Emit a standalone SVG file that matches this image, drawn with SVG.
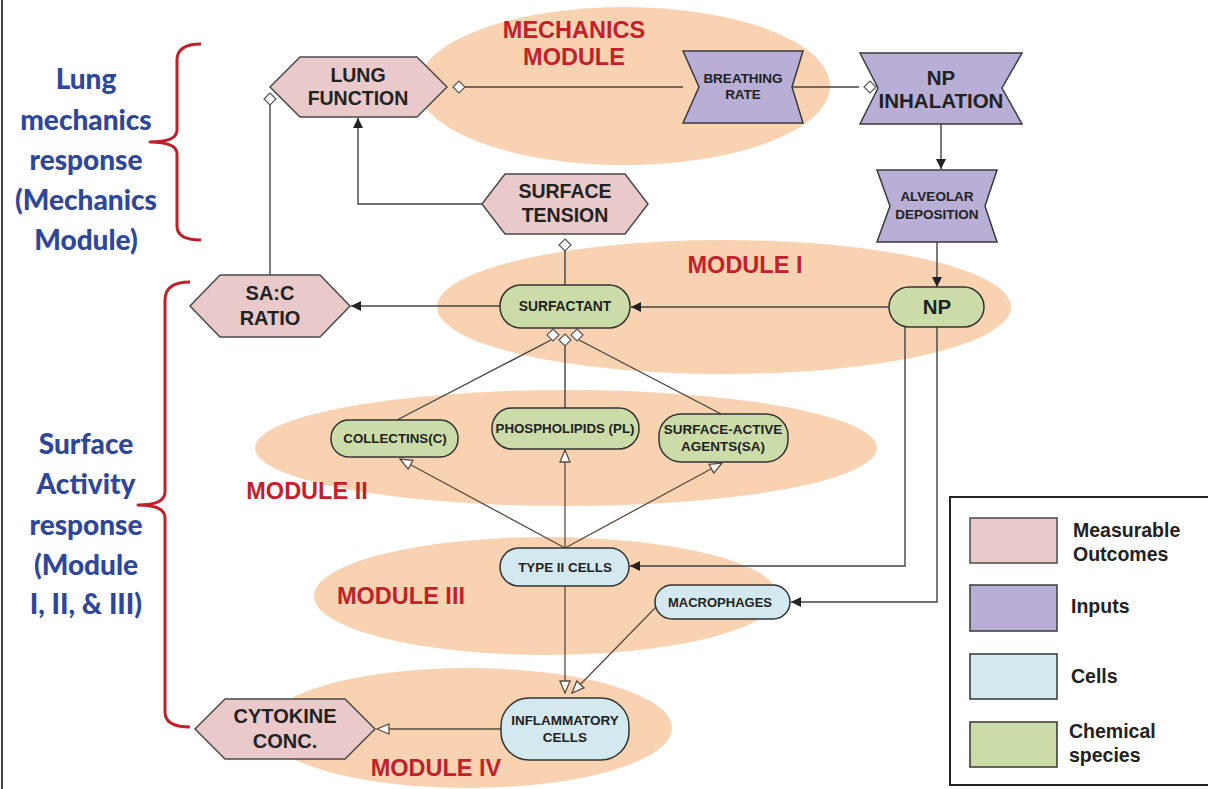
<svg xmlns="http://www.w3.org/2000/svg" width="1208" height="789" viewBox="0 0 1208 789">
<defs>
<style>
.mod{fill:#F9D3B1}
.mlab{font-family:"Liberation Sans",Arial,sans-serif;font-weight:bold;fill:#C2202B;font-size:23.5px;text-anchor:middle}
.side{font-family:Lato,"Open Sans",sans-serif;font-weight:900;fill:#2F479A;font-size:28px;text-anchor:middle}
.pink{fill:#E9C9C9;stroke:#4a4a4a;stroke-width:1.5}
.purp{fill:#B9AED5;stroke:#3a3a3a;stroke-width:1.5}
.blue{fill:#D3E8EF;stroke:#333;stroke-width:1.5}
.green{fill:#CCDCA9;stroke:#333;stroke-width:1.5}
.t{font-family:"Liberation Sans",Arial,sans-serif;font-weight:bold;fill:#222;text-anchor:middle}
.ln{fill:none;stroke:#444;stroke-width:1.4}
.lnb{fill:none;stroke:#5a4a3e;stroke-width:1.3}
.dia{fill:#fff;stroke:#555;stroke-width:1.2}
.brace{fill:none;stroke:#C0202A;stroke-width:3;stroke-linejoin:round}
.leg{font-family:"Liberation Sans",Arial,sans-serif;font-weight:bold;fill:#222;font-size:19.5px}
</style>
<marker id="af" viewBox="0 0 10 10" refX="10" refY="5" markerWidth="10" markerHeight="10" markerUnits="userSpaceOnUse" orient="auto">
<path d="M0,0 L10,5 L0,10 z" fill="#222"/>
</marker>
<marker id="ah" viewBox="0 0 14 12" refX="13" refY="6" markerWidth="14" markerHeight="12" markerUnits="userSpaceOnUse" orient="auto">
<path d="M1,1 L13,6 L1,11 z" fill="#fff" stroke="#5a4a3e" stroke-width="1.3"/>
</marker>
</defs>
<rect width="1208" height="789" fill="#fff"/>
<line x1="2" y1="0" x2="2" y2="789" stroke="#444" stroke-width="2"/>

<g id="modules">
<ellipse class="mod" cx="624" cy="86" rx="206" ry="79"/>
<ellipse class="mod" cx="724" cy="307" rx="287" ry="67"/>
<ellipse class="mod" cx="566" cy="448" rx="311" ry="58"/>
<ellipse class="mod" cx="546" cy="596" rx="232" ry="59"/>
<ellipse class="mod" cx="468" cy="728" rx="204" ry="60"/>
<text class="mlab" x="574" y="38">MECHANICS</text>
<text class="mlab" x="574" y="65">MODULE</text>
<text class="mlab" x="745" y="273">MODULE I</text>
<text class="mlab" x="307" y="499">MODULE II</text>
<text class="mlab" x="401" y="604">MODULE III</text>
<text class="mlab" x="436" y="776">MODULE IV</text>
</g>

<g id="side-labels">
<path class="brace" d="M201,44 Q177,44 177,60 L177,130 Q177,142 150,142 Q177,142 177,154 L177,226 Q177,240 201,240"/>
<text class="side" x="86" y="89">Lung</text>
<text class="side" x="86" y="130">mechanics</text>
<text class="side" x="86" y="170">response</text>
<text class="side" x="86" y="210">(Mechanics</text>
<text class="side" x="86" y="250">Module)</text>
<path class="brace" d="M190,282 Q165,282 165,300 L165,492 Q165,505 138,505 Q165,505 165,518 L165,712 Q165,727 190,727"/>
<text class="side" x="86" y="454">Surface</text>
<text class="side" x="86" y="494">Activity</text>
<text class="side" x="86" y="535">response</text>
<text class="side" x="86" y="575">(Module</text>
<text class="side" x="86" y="614">I, II, &amp; III)</text>
</g>

<g id="connectors">
<line class="ln" x1="465" y1="87" x2="683" y2="87"/>
<line class="ln" x1="792" y1="87" x2="859" y2="87"/>
<path class="ln" d="M483,204 L358,204 L358,118" marker-end="url(#af)"/>
<line class="ln" x1="270" y1="105" x2="270" y2="275"/>
<line class="ln" x1="565" y1="251" x2="565" y2="285"/>
<line class="ln" x1="941" y1="124" x2="941" y2="169" marker-end="url(#af)"/>
<line class="ln" x1="937" y1="242" x2="937" y2="287" marker-end="url(#af)"/>
<line class="ln" x1="889" y1="307" x2="631" y2="307" marker-end="url(#af)"/>
<line class="ln" x1="500" y1="306" x2="351" y2="306" marker-end="url(#af)"/>
<line class="ln" x1="397" y1="420" x2="551" y2="340"/>
<line class="ln" x1="565" y1="408" x2="565" y2="346"/>
<line class="ln" x1="723" y1="415" x2="579" y2="340"/>
<line class="lnb" x1="565" y1="548" x2="400" y2="459" marker-end="url(#ah)"/>
<line class="lnb" x1="565" y1="548" x2="565" y2="450" marker-end="url(#ah)"/>
<line class="lnb" x1="565" y1="548" x2="722" y2="463" marker-end="url(#ah)"/>
<path class="ln" d="M905,327 L905,566 L630,566" marker-end="url(#af)"/>
<path class="ln" d="M937,327 L937,602 L791,602" marker-end="url(#af)"/>
<line class="lnb" x1="565" y1="586" x2="565" y2="693" marker-end="url(#ah)"/>
<line class="lnb" x1="658" y1="605" x2="572" y2="693" marker-end="url(#ah)"/>
<line class="lnb" x1="501" y1="729" x2="377" y2="729" marker-end="url(#ah)"/>
<path class="dia" d="M453,87 L459,81 L465,87 L459,93 z"/>
<path class="dia" d="M864,87 L870,81 L876,87 L870,93 z"/>
<path class="dia" d="M264,99 L270,93 L276,99 L270,105 z"/>
<path class="dia" d="M565,239 L571,245 L565,251 L559,245 z"/>
<path class="dia" d="M553,329 L559,335 L553,341 L547,335 z"/>
<path class="dia" d="M565,334 L571,340 L565,346 L559,340 z"/>
<path class="dia" d="M577,329 L583,335 L577,341 L571,335 z"/>
</g>

<g id="lung-function">
<path class="pink" d="M270,87 L300,57 L417,57 L447,87 L417,117 L300,117 z"/>
<text class="t" x="358" y="82" font-size="19.5">LUNG</text>
<text class="t" x="358" y="105" font-size="19.5">FUNCTION</text>
</g>
<g id="surface-tension">
<path class="pink" d="M482,204 L505,174 L625,174 L648,204 L625,234 L505,234 z"/>
<text class="t" x="565" y="198" font-size="19.5">SURFACE</text>
<text class="t" x="565" y="222" font-size="19.5">TENSION</text>
</g>
<g id="breathing-rate">
<path class="purp" d="M683,51 L803,51 L792,87 L803,123 L683,123 L699,87 z"/>
<text class="t" x="743" y="83" font-size="13.5">BREATHING</text>
<text class="t" x="743" y="99" font-size="13.5">RATE</text>
</g>
<g id="np-inhalation">
<path class="purp" d="M860,53 L1022,53 L1002,88 L1022,124 L860,124 L878,88 z"/>
<text class="t" x="941" y="85" font-size="20.5">NP</text>
<text class="t" x="941" y="108" font-size="20.5">INHALATION</text>
</g>
<g id="alveolar-deposition">
<path class="purp" d="M877,170 L997,170 L985,206 L997,242 L877,242 L890,206 z"/>
<text class="t" x="937" y="201" font-size="13.5">ALVEOLAR</text>
<text class="t" x="937" y="219" font-size="13.5">DEPOSITION</text>
</g>
<g id="np">
<rect class="green" x="889" y="287" width="95" height="40" rx="20"/>
<text class="t" x="937" y="314" font-size="20.5">NP</text>
</g>
<g id="surfactant">
<rect class="green" x="500" y="285" width="130" height="43" rx="21"/>
<text class="t" x="565" y="311" font-size="13.8">SURFACTANT</text>
</g>
<g id="sac-ratio">
<path class="pink" d="M190,306 L220,275 L320,275 L350,306 L320,337 L220,337 z"/>
<text class="t" x="270" y="300" font-size="20">SA:C</text>
<text class="t" x="270" y="325" font-size="20">RATIO</text>
</g>
<g id="collectins">
<rect class="green" x="331" y="420" width="127" height="37" rx="18"/>
<text class="t" x="395" y="443" font-size="13.3">COLLECTINS(C)</text>
</g>
<g id="phospholipids">
<rect class="green" x="492" y="408" width="147" height="41" rx="20"/>
<text class="t" x="565" y="433" font-size="13.3">PHOSPHOLIPIDS (PL)</text>
</g>
<g id="surface-active">
<rect class="green" x="659" y="414" width="129" height="48" rx="22"/>
<text class="t" x="723" y="434" font-size="13.5">SURFACE-ACTIVE</text>
<text class="t" x="723" y="451" font-size="13.5">AGENTS(SA)</text>
</g>
<g id="type-ii-cells">
<rect class="blue" x="500" y="548" width="129" height="38" rx="19"/>
<text class="t" x="565" y="572" font-size="13.4">TYPE II CELLS</text>
</g>
<g id="macrophages">
<rect class="blue" x="655" y="585" width="135" height="34" rx="17"/>
<text class="t" x="720" y="607" font-size="13">MACROPHAGES</text>
</g>
<g id="inflammatory-cells">
<rect class="blue" x="501" y="698" width="128" height="62" rx="28"/>
<text class="t" x="565" y="725" font-size="13.5">INFLAMMATORY</text>
<text class="t" x="565" y="742" font-size="13.5">CELLS</text>
</g>
<g id="cytokine">
<path class="pink" d="M195,729 L225,699 L345,699 L375,729 L345,759 L225,759 z"/>
<text class="t" x="285" y="723" font-size="20">CYTOKINE</text>
<text class="t" x="285" y="748" font-size="20">CONC.</text>
</g>

<g id="legend">
<rect x="950" y="497" width="262" height="288" fill="#fff" stroke="#222" stroke-width="2"/>
<rect class="pink" x="970" y="518" width="87" height="45" stroke-width="2"/>
<rect class="purp" x="970" y="585" width="87" height="46" stroke-width="2"/>
<rect class="blue" x="970" y="654" width="87" height="45" stroke-width="2"/>
<rect class="green" x="970" y="722" width="87" height="45" stroke-width="2"/>
<text class="leg" x="1073" y="537">Measurable</text>
<text class="leg" x="1073" y="561">Outcomes</text>
<text class="leg" x="1071" y="613">Inputs</text>
<text class="leg" x="1071" y="683">Cells</text>
<text class="leg" x="1069" y="738">Chemical</text>
<text class="leg" x="1069" y="762">species</text>
</g>
</svg>
